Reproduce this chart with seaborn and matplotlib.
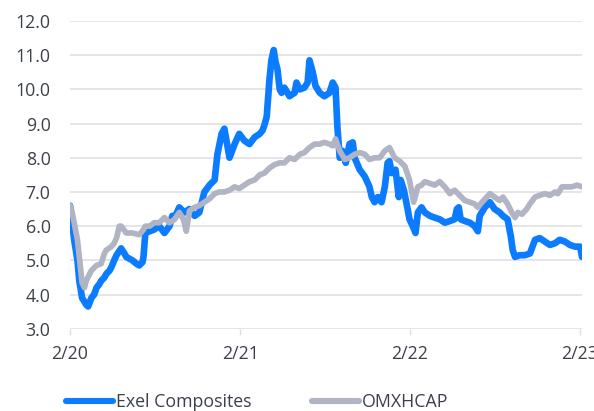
import matplotlib
matplotlib.use("Agg")
import matplotlib.pyplot as plt
from matplotlib.lines import Line2D
import pandas as pd
import seaborn as sns

# ---- data ----
exel_dates = [
    "2020-02-01", "2020-02-04", "2020-02-10", "2020-02-17", "2020-02-21", "2020-02-27",
    "2020-03-07", "2020-03-11", "2020-03-18", "2020-03-24", "2020-03-29", "2020-04-04",
    "2020-04-08", "2020-04-15", "2020-04-19", "2020-04-26", "2020-04-30", "2020-05-06",
    "2020-05-11", "2020-05-21", "2020-05-28", "2020-06-01", "2020-06-14", "2020-06-23",
    "2020-06-29", "2020-07-06", "2020-07-08", "2020-07-12", "2020-07-21", "2020-07-31",
    "2020-08-11", "2020-08-22", "2020-09-02", "2020-09-08", "2020-09-13", "2020-09-23",
    "2020-10-04", "2020-10-15", "2020-10-26", "2020-11-05", "2020-11-16", "2020-11-27",
    "2020-12-08", "2020-12-14", "2020-12-23", "2020-12-29", "2021-01-05", "2021-01-09",
    "2021-01-20", "2021-01-30", "2021-02-10", "2021-02-21", "2021-03-04", "2021-03-15",
    "2021-03-21", "2021-03-25", "2021-03-30", "2021-04-05", "2021-04-09", "2021-04-14",
    "2021-04-18", "2021-04-22", "2021-04-27", "2021-05-01", "2021-05-07", "2021-05-18",
    "2021-05-29", "2021-06-02", "2021-06-09", "2021-06-19", "2021-06-26", "2021-06-30",
    "2021-07-07", "2021-07-13", "2021-07-22", "2021-08-01", "2021-08-12", "2021-08-19",
    "2021-08-25", "2021-08-29", "2021-09-03", "2021-09-09", "2021-09-16", "2021-09-24",
    "2021-10-01", "2021-10-05", "2021-10-16", "2021-10-27", "2021-11-06", "2021-11-11",
    "2021-11-17", "2021-11-24", "2021-12-02", "2021-12-09", "2021-12-15", "2021-12-19",
    "2021-12-24", "2022-01-01", "2022-01-08", "2022-01-12", "2022-01-19", "2022-01-27",
    "2022-01-31", "2022-02-07", "2022-02-13", "2022-02-18", "2022-02-26", "2022-03-05",
    "2022-03-16", "2022-03-26", "2022-04-06", "2022-04-17", "2022-04-28", "2022-05-08",
    "2022-05-13", "2022-05-17", "2022-05-21", "2022-05-30", "2022-06-10", "2022-06-20",
    "2022-06-27", "2022-07-01", "2022-07-12", "2022-07-23", "2022-08-02", "2022-08-13",
    "2022-08-20", "2022-08-30", "2022-09-06", "2022-09-10", "2022-09-15", "2022-09-25",
    "2022-10-06", "2022-10-17", "2022-10-28", "2022-11-07", "2022-11-18", "2022-11-29",
    "2022-12-10", "2022-12-20", "2022-12-31", "2023-01-11", "2023-01-22", "2023-02-02",
    "2023-02-06",
]
exel_values = [
    6.6, 6.3, 5.6, 5.0, 4.4, 3.9,
    3.7, 3.65, 3.9, 4.0, 4.2, 4.3,
    4.4, 4.5, 4.6, 4.7, 4.8, 5.0,
    5.15, 5.35, 5.2, 5.1, 5.0, 4.9,
    4.85, 4.95, 5.1, 5.8, 5.85, 5.9,
    6.0, 5.8, 6.0, 6.3, 6.25, 6.55,
    6.4, 6.5, 6.3, 6.4, 7.0, 7.2,
    7.35, 8.1, 8.7, 8.85, 8.3, 8.0,
    8.4, 8.7, 8.5, 8.4, 8.6, 8.7,
    8.8, 8.95, 9.2, 10.3, 10.85, 11.15,
    10.8, 10.6, 10.0, 9.9, 10.05, 9.8,
    9.9, 10.2, 10.0, 10.05, 10.2, 10.85,
    10.5, 10.1, 9.9, 9.8, 9.9, 10.2,
    10.05, 8.9, 8.0, 8.2, 7.85, 8.4,
    8.45, 8.0, 7.65, 7.45, 7.15, 6.85,
    6.7, 6.85, 6.7, 7.15, 7.85, 7.9,
    7.55, 7.65, 6.85, 7.35, 7.05, 6.5,
    6.2, 6.0, 5.8, 6.4, 6.55, 6.4,
    6.3, 6.25, 6.2, 6.1, 6.15, 6.2,
    6.5, 6.55, 6.2, 6.15, 6.1, 6.0,
    5.85, 6.3, 6.55, 6.7, 6.5, 6.4,
    6.3, 6.2, 5.7, 5.3, 5.1, 5.15,
    5.15, 5.2, 5.6, 5.65, 5.55, 5.45,
    5.5, 5.6, 5.55, 5.45, 5.4, 5.4,
    5.1,
]

omx_dates = [
    "2020-02-01", "2020-02-04", "2020-02-10", "2020-02-17", "2020-02-21", "2020-02-27",
    "2020-03-03", "2020-03-07", "2020-03-14", "2020-03-18", "2020-03-29", "2020-04-08",
    "2020-04-15", "2020-04-19", "2020-04-30", "2020-05-06", "2020-05-11", "2020-05-17",
    "2020-05-21", "2020-06-01", "2020-06-14", "2020-06-29", "2020-07-08", "2020-07-12",
    "2020-07-21", "2020-07-31", "2020-08-11", "2020-08-22", "2020-09-02", "2020-09-13",
    "2020-09-23", "2020-10-02", "2020-10-08", "2020-10-15", "2020-10-26", "2020-11-05",
    "2020-11-16", "2020-11-27", "2020-12-08", "2020-12-18", "2020-12-29", "2021-01-09",
    "2021-01-20", "2021-01-30", "2021-02-10", "2021-02-21", "2021-03-04", "2021-03-15",
    "2021-03-25", "2021-04-05", "2021-04-16", "2021-04-27", "2021-05-07", "2021-05-18",
    "2021-05-29", "2021-06-09", "2021-06-19", "2021-06-30", "2021-07-11", "2021-07-22",
    "2021-08-01", "2021-08-12", "2021-08-19", "2021-08-25", "2021-09-03", "2021-09-14",
    "2021-09-24", "2021-10-05", "2021-10-16", "2021-10-27", "2021-11-06", "2021-11-17",
    "2021-11-28", "2021-12-09", "2021-12-19", "2021-12-30", "2022-01-10", "2022-01-21",
    "2022-01-31", "2022-02-09", "2022-02-18", "2022-02-26", "2022-03-05", "2022-03-16",
    "2022-03-26", "2022-04-06", "2022-04-17", "2022-04-28", "2022-05-02", "2022-05-08",
    "2022-05-19", "2022-05-30", "2022-06-10", "2022-06-20", "2022-06-27", "2022-07-06",
    "2022-07-16", "2022-07-23", "2022-08-02", "2022-08-13", "2022-08-20", "2022-08-30",
    "2022-09-08", "2022-09-15", "2022-09-21", "2022-09-30", "2022-10-10", "2022-10-17",
    "2022-10-28", "2022-11-07", "2022-11-18", "2022-11-29", "2022-12-10", "2022-12-16",
    "2022-12-25", "2023-01-05", "2023-01-15", "2023-01-26", "2023-02-06",
]
omx_values = [
    6.6, 6.5, 6.1, 5.6, 5.1, 4.35,
    4.2, 4.4, 4.6, 4.7, 4.85, 4.9,
    5.2, 5.3, 5.4, 5.5, 5.65, 6.0,
    6.0, 5.8, 5.8, 5.75, 5.9, 6.0,
    6.0, 6.1, 6.1, 6.25, 6.1, 6.2,
    6.4, 6.2, 5.85, 6.45, 6.55, 6.6,
    6.7, 6.8, 6.95, 7.0, 7.0, 7.05,
    7.15, 7.1, 7.2, 7.3, 7.35, 7.5,
    7.55, 7.7, 7.8, 7.85, 7.85, 8.0,
    7.95, 8.1, 8.15, 8.3, 8.4, 8.4,
    8.45, 8.4, 8.35, 8.55, 8.2, 7.95,
    8.0, 8.1, 8.15, 8.1, 7.95, 8.0,
    8.0, 8.2, 8.3, 8.0, 7.9, 7.75,
    7.35, 6.7, 7.15, 7.2, 7.3, 7.25,
    7.2, 7.3, 7.15, 6.95, 7.0, 7.05,
    6.9, 6.75, 6.7, 6.65, 6.55, 6.7,
    6.85, 6.95, 6.85, 6.75, 6.85, 6.65,
    6.4, 6.25, 6.4, 6.35, 6.5, 6.65,
    6.85, 6.9, 6.95, 6.9, 7.0, 6.95,
    7.15, 7.15, 7.15, 7.2, 7.15,
]

series_names = ["Exel Composites", "OMXHCAP"]
series_colors = ["#0b7cff", "#b0b4c3"]
tick_dates = ["2020-02-01", "2021-02-01", "2022-02-01", "2023-02-01"]
tick_labels = ["2/20", "2/21", "2/22", "2/23"]
y_ticks = [3, 4, 5, 6, 7, 8, 9, 10, 11, 12]

# ---- build tidy frame ----
df = pd.concat([
    pd.DataFrame({"date": pd.to_datetime(exel_dates), "value": exel_values,
                  "series": series_names[0]}),
    pd.DataFrame({"date": pd.to_datetime(omx_dates), "value": omx_values,
                  "series": series_names[1]}),
], ignore_index=True)

sns.set_theme(style="white")
plt.rcParams["font.family"] = ["Open Sans", "DejaVu Sans"]

text_color = "#3b404b"
grid_color = "#dedde3"
fs = 12.8

fig = plt.figure(figsize=(5.94, 4.11), dpi=100)
ax = fig.add_axes([70 / 594, 1 - 328.7 / 411, 512 / 594, (328.7 - 21) / 411])

palette = dict(zip(series_names, series_colors))
sns.lineplot(data=df, x="date", y="value", hue="series", hue_order=series_names,
             palette=palette, linewidth=4.5, ax=ax, legend=False,
             solid_joinstyle="round", solid_capstyle="round")
ax.lines[0].set_linewidth(4.8)
ax.lines[1].set_linewidth(4.1)

ax.set_ylim(3, 12)
ax.set_xlim(pd.Timestamp("2020-02-01"), pd.Timestamp("2023-02-06"))
ax.set_yticks(y_ticks)
ax.set_yticklabels([f"{v:.1f}" for v in y_ticks])
ax.set_xticks(pd.to_datetime(tick_dates))
ax.set_xticklabels(tick_labels)
ax.set_xlabel("")
ax.set_ylabel("")

ax.grid(axis="y", color=grid_color, linewidth=1.1)
ax.grid(axis="x", visible=False)
ax.set_axisbelow(True)
for s in ax.spines.values():
    s.set_visible(False)

ax.tick_params(axis="y", length=0, pad=14, labelsize=fs, labelcolor=text_color)
ax.tick_params(axis="x", length=4.5, width=1, color=grid_color, pad=7.5,
               labelsize=fs, labelcolor=text_color, bottom=True, direction="out")

handles = [Line2D([0], [0], color=c, linewidth=4.4, solid_capstyle="round")
           for c in series_colors]
fig.legend(handles, series_names, loc="center left",
           bbox_to_anchor=(66 / 594, 1 - 402 / 411), ncol=2, frameon=False,
           fontsize=fs, labelcolor=text_color, handlelength=2.65,
           handletextpad=0.17, columnspacing=3.4, borderaxespad=0, borderpad=0)

fig.savefig("out.png", dpi=100)
